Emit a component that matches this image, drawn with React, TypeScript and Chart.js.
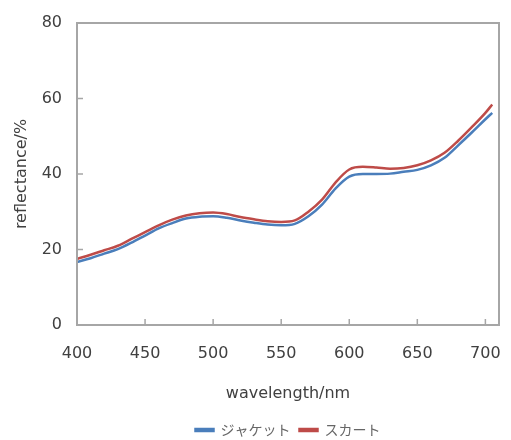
import React, { useEffect, useRef } from "react";
import { Chart, registerables } from "chart.js";

Chart.register(...registerables);

const wavelengths = [400, 410, 420, 430, 440, 450, 460, 470, 480, 490, 500, 510, 520, 530, 540, 550, 560, 570, 580, 590, 600, 610, 620, 630, 640, 650, 660, 670, 680, 690, 700, 705];
const jacket = [16.7, 17.7, 18.9, 20.1, 21.8, 23.7, 25.6, 27.0, 28.2, 28.7, 28.8, 28.4, 27.7, 27.1, 26.6, 26.4, 26.8, 28.8, 31.9, 36.2, 39.3, 40.0, 40.0, 40.1, 40.6, 41.1, 42.3, 44.3, 47.6, 51.0, 54.5, 56.2];
const skirt = [17.5, 18.6, 19.8, 21.0, 22.8, 24.6, 26.4, 27.9, 29.0, 29.6, 29.8, 29.4, 28.6, 28.0, 27.5, 27.3, 27.7, 30.0, 33.2, 37.8, 41.2, 41.9, 41.7, 41.4, 41.6, 42.3, 43.6, 45.6, 48.8, 52.4, 56.2, 58.4];
const xTicks = [400, 450, 500, 550, 600, 650, 700];
const yTicks = [0, 20, 40, 60, 80];
const seriesNames = ["ジャケット", "スカート"];
const xTitle = "wavelength/nm";
const yTitle = "reflectance/%";

const BLUE = "#4a7ebb";
const RED = "#be4b48";
const FRAME = "#a6a6a6";
const TEXT = "#404040";

const framePlugin = {
  id: "frame",
  afterDatasetsDraw(chart: any) {
    const { ctx, chartArea, scales } = chart;
    ctx.save();
    ctx.strokeStyle = FRAME;
    ctx.lineWidth = 2;
    ctx.strokeRect(chartArea.left, chartArea.top, chartArea.right - chartArea.left, chartArea.bottom - chartArea.top);
    ctx.lineWidth = 1.5;
    ctx.beginPath();
    xTicks.forEach((v) => {
      const x = scales.x.getPixelForValue(v);
      if (x > chartArea.left + 2) {
        ctx.moveTo(x, chartArea.bottom);
        ctx.lineTo(x, chartArea.bottom - 6);
      }
    });
    yTicks.forEach((v) => {
      const y = scales.y.getPixelForValue(v);
      if (y > chartArea.top + 2 && y < chartArea.bottom - 2) {
        ctx.moveTo(chartArea.left, y);
        ctx.lineTo(chartArea.left + 6, y);
      }
    });
    ctx.stroke();
    ctx.restore();
  },
};

export default function App() {
  const ref = useRef<HTMLCanvasElement | null>(null);
  useEffect(() => {
    if (!ref.current) return;
    const chart = new Chart(ref.current, {
      type: "line",
      data: {
        datasets: [
          {
            label: seriesNames[0],
            data: wavelengths.map((w, i) => ({ x: w, y: jacket[i] })),
            borderColor: BLUE,
            backgroundColor: BLUE,
            borderWidth: 2.5,
            pointRadius: 0,
            tension: 0.4,
            cubicInterpolationMode: "monotone",
          },
          {
            label: seriesNames[1],
            data: wavelengths.map((w, i) => ({ x: w, y: skirt[i] })),
            borderColor: RED,
            backgroundColor: RED,
            borderWidth: 2.5,
            pointRadius: 0,
            tension: 0.4,
            cubicInterpolationMode: "monotone",
          },
        ],
      },
      options: {
        responsive: false,
        animation: false,
        layout: { padding: { top: 23, right: 12, left: 0, bottom: -7 } },
        plugins: {
          tooltip: { enabled: false },
          legend: {
            position: "bottom",
            fullSize: false,
            labels: {
              boxWidth: 18,
              boxHeight: 2,
              padding: 9,
              color: "#666666",
              font: { family: "'Noto Sans CJK JP', sans-serif", size: 14 },
            },
          },
        },
        scales: {
          x: {
            type: "linear",
            min: 400,
            max: 710,
            afterBuildTicks: (s: any) => {
              s.ticks = xTicks.map((v) => ({ value: v }));
            },
            afterFit: (s: any) => {
              s.height = 89;
              s.paddingLeft = 0;
              s.paddingRight = 0;
            },
            grid: { display: false, drawTicks: false },
            border: { display: false },
            ticks: { color: TEXT, padding: 19, maxRotation: 0, font: { family: "'DejaVu Sans'", size: 16 } },
            title: { display: true, text: xTitle, color: TEXT, padding: { top: 0, bottom: 11 }, font: { family: "'DejaVu Sans'", size: 16 } },
          },
          y: {
            min: 0,
            max: 80,
            afterBuildTicks: (s: any) => {
              s.ticks = yTicks.map((v) => ({ value: v }));
            },
            afterFit: (s: any) => {
              s.width = 77;
              s.paddingTop = 0;
              s.paddingBottom = 0;
            },
            grid: { display: false, drawTicks: false },
            border: { display: false },
            ticks: { color: TEXT, padding: 15, font: { family: "'DejaVu Sans'", size: 16 } },
            title: { display: true, text: yTitle, color: TEXT, padding: { top: 12, bottom: 0 }, font: { family: "'DejaVu Sans'", size: 16 } },
          },
        },
      },
      plugins: [framePlugin],
    } as any);
    return () => chart.destroy();
  }, []);
  return (
    <div style={{ position: "absolute", left: 0, top: 0, width: 511, height: 440, background: "#fff" }}>
      <canvas ref={ref} width={511} height={440} />
    </div>
  );
}
